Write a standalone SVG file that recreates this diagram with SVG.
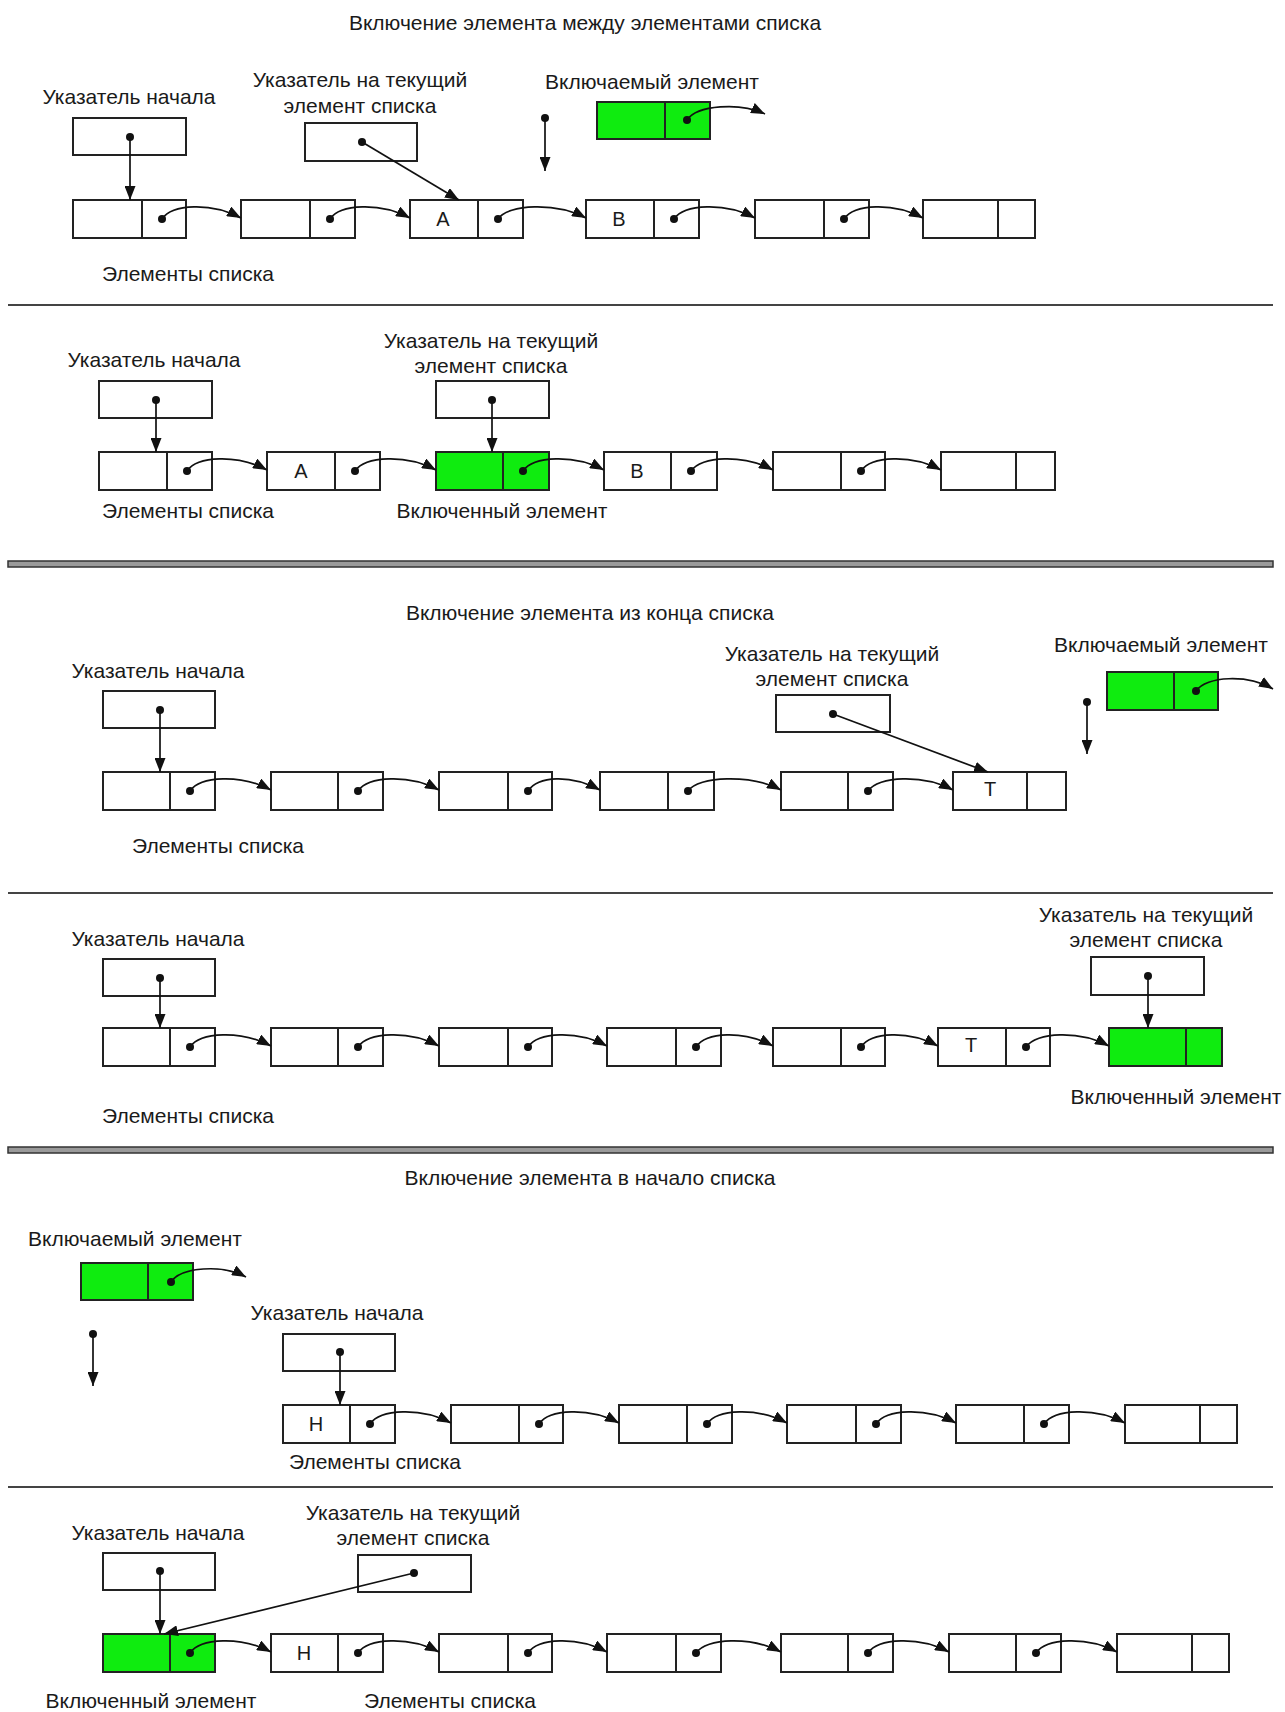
<svg xmlns="http://www.w3.org/2000/svg" width="1285" height="1712" viewBox="0 0 1285 1712">
  <defs>
    <marker id="tip" markerUnits="userSpaceOnUse" markerWidth="15" markerHeight="11" refX="14" refY="5.5" orient="auto">
      <path d="M0,0 L14,5.5 L0,11 z" fill="#111"/>
    </marker>
  </defs>
  <style>
    .cell { fill: #fff; stroke: #222; stroke-width: 2; }
    .green { fill: #0fec0f; }
    .div { stroke: #222; stroke-width: 2; }
    .dot { fill: #111; }
    .lbl { font-family: "Liberation Sans", Arial, sans-serif; font-size: 21px; fill: #1a1a1a; text-anchor: middle; }
    .ch { font-family: "Liberation Sans", Arial, sans-serif; font-size: 20px; fill: #1a1a1a; text-anchor: middle; }
    .link { fill: none; stroke: #111; stroke-width: 1.7; marker-end: url(#tip); }
    .ptr { fill: none; stroke: #111; stroke-width: 1.7; marker-end: url(#tip); }
    .thin { stroke: #444; stroke-width: 2; }
    .thick { fill: #9a9a9a; stroke: #333; stroke-width: 1.5; }
  </style>

  <!-- Section 1: insertion between list elements (before) -->
  <text class="lbl" x="585" y="30">Включение элемента между элементами списка</text>
  <g id="s1-labels">
    <text class="lbl" x="129" y="104">Указатель начала</text>
    <text class="lbl" x="360" y="87">Указатель на текущий</text>
    <text class="lbl" x="360" y="113">элемент списка</text>
    <text class="lbl" x="652" y="89">Включаемый элемент</text>
    <text class="lbl" x="188" y="281">Элементы списка</text>
  </g>
  <g id="s1-head"><rect class="cell" x="73" y="118" width="113" height="37"/><circle class="dot" cx="130" cy="137" r="4"/></g>
  <g id="s1-cur"><rect class="cell" x="305" y="123" width="112" height="38"/><circle class="dot" cx="362" cy="142" r="4"/></g>
  <g id="s1-new"><rect class="cell green" x="597" y="102" width="113" height="37"/><line class="div" x1="665" y1="102" x2="665" y2="139"/><circle class="dot" cx="687" cy="120" r="4"/></g>
  <g id="s1-n1"><rect class="cell" x="73" y="200" width="113" height="38"/><line class="div" x1="142" y1="200" x2="142" y2="238"/><circle class="dot" cx="162" cy="219" r="4"/></g>
  <g id="s1-n2"><rect class="cell" x="241" y="200" width="114" height="38"/><line class="div" x1="310" y1="200" x2="310" y2="238"/><circle class="dot" cx="330" cy="219" r="4"/></g>
  <g id="s1-n3"><rect class="cell" x="410" y="200" width="113" height="38"/><line class="div" x1="478" y1="200" x2="478" y2="238"/><circle class="dot" cx="498" cy="219" r="4"/><text class="ch" x="443" y="226">A</text></g>
  <g id="s1-n4"><rect class="cell" x="586" y="200" width="113" height="38"/><line class="div" x1="654" y1="200" x2="654" y2="238"/><circle class="dot" cx="674" cy="219" r="4"/><text class="ch" x="619" y="226">B</text></g>
  <g id="s1-n5"><rect class="cell" x="755" y="200" width="114" height="38"/><line class="div" x1="824" y1="200" x2="824" y2="238"/><circle class="dot" cx="844" cy="219" r="4"/></g>
  <g id="s1-n6"><rect class="cell" x="923" y="200" width="112" height="38"/><line class="div" x1="998" y1="200" x2="998" y2="238"/></g>
  <g id="s1-links">
    <line class="ptr" x1="130" y1="137" x2="130" y2="200"/>
    <line class="ptr" x1="362" y1="142" x2="459" y2="200"/>
    <circle class="dot" cx="545" cy="118" r="4"/>
    <line class="ptr" x1="545" y1="118" x2="545" y2="171"/>
    <path class="link" d="M687 120 C697 105 740 102 765 114"/>
    <path class="link" d="M162 219 C172 204 211 202 241 218"/>
    <path class="link" d="M330 219 C340 204 380 202 410 218"/>
    <path class="link" d="M498 219 C508 204 556 202 586 218"/>
    <path class="link" d="M674 219 C684 204 725 202 755 218"/>
    <path class="link" d="M844 219 C854 204 893 202 923 218"/>
  </g>
  <line class="thin" x1="8" y1="305" x2="1273" y2="305"/>

  <!-- Section 2: insertion between list elements (after) -->
  <g id="s2-labels">
    <text class="lbl" x="154" y="367">Указатель начала</text>
    <text class="lbl" x="491" y="348">Указатель на текущий</text>
    <text class="lbl" x="491" y="373">элемент списка</text>
    <text class="lbl" x="188" y="518">Элементы списка</text>
    <text class="lbl" x="502" y="518">Включенный элемент</text>
  </g>
  <g id="s2-head"><rect class="cell" x="99" y="381" width="113" height="37"/><circle class="dot" cx="156" cy="400" r="4"/></g>
  <g id="s2-cur"><rect class="cell" x="436" y="381" width="113" height="37"/><circle class="dot" cx="492" cy="400" r="4"/></g>
  <g id="s2-n1"><rect class="cell" x="99" y="452" width="113" height="38"/><line class="div" x1="167" y1="452" x2="167" y2="490"/><circle class="dot" cx="187" cy="471" r="4"/></g>
  <g id="s2-n2"><rect class="cell" x="267" y="452" width="113" height="38"/><line class="div" x1="335" y1="452" x2="335" y2="490"/><circle class="dot" cx="355" cy="471" r="4"/><text class="ch" x="301" y="478">A</text></g>
  <g id="s2-n3"><rect class="cell green" x="436" y="452" width="113" height="38"/><line class="div" x1="503" y1="452" x2="503" y2="490"/><circle class="dot" cx="523" cy="471" r="4"/></g>
  <g id="s2-n4"><rect class="cell" x="604" y="452" width="113" height="38"/><line class="div" x1="671" y1="452" x2="671" y2="490"/><circle class="dot" cx="691" cy="471" r="4"/><text class="ch" x="637" y="478">B</text></g>
  <g id="s2-n5"><rect class="cell" x="773" y="452" width="112" height="38"/><line class="div" x1="841" y1="452" x2="841" y2="490"/><circle class="dot" cx="861" cy="471" r="4"/></g>
  <g id="s2-n6"><rect class="cell" x="941" y="452" width="114" height="38"/><line class="div" x1="1016" y1="452" x2="1016" y2="490"/></g>
  <g id="s2-links">
    <line class="ptr" x1="156" y1="400" x2="156" y2="452"/>
    <line class="ptr" x1="492" y1="400" x2="492" y2="452"/>
    <path class="link" d="M187 471 C197 456 237 454 267 470"/>
    <path class="link" d="M355 471 C365 456 406 454 436 470"/>
    <path class="link" d="M523 471 C533 456 574 454 604 470"/>
    <path class="link" d="M691 471 C701 456 743 454 773 470"/>
    <path class="link" d="M861 471 C871 456 911 454 941 470"/>
  </g>
  <rect class="thick" x="8" y="561" width="1265" height="6"/>

  <!-- Section 3: insertion at the end of the list (before) -->
  <text class="lbl" x="590" y="620">Включение элемента из конца списка</text>
  <g id="s3-labels">
    <text class="lbl" x="158" y="678">Указатель начала</text>
    <text class="lbl" x="832" y="661">Указатель на текущий</text>
    <text class="lbl" x="832" y="686">элемент списка</text>
    <text class="lbl" x="1161" y="652">Включаемый элемент</text>
    <text class="lbl" x="218" y="853">Элементы списка</text>
  </g>
  <g id="s3-head"><rect class="cell" x="103" y="691" width="112" height="37"/><circle class="dot" cx="160" cy="710" r="4"/></g>
  <g id="s3-cur"><rect class="cell" x="776" y="695" width="114" height="37"/><circle class="dot" cx="833" cy="714" r="4"/></g>
  <g id="s3-new"><rect class="cell green" x="1107" y="672" width="111" height="38"/><line class="div" x1="1174" y1="672" x2="1174" y2="710"/><circle class="dot" cx="1196" cy="691" r="4"/></g>
  <g id="s3-n1"><rect class="cell" x="103" y="772" width="112" height="38"/><line class="div" x1="170" y1="772" x2="170" y2="810"/><circle class="dot" cx="190" cy="791" r="4"/></g>
  <g id="s3-n2"><rect class="cell" x="271" y="772" width="112" height="38"/><line class="div" x1="338" y1="772" x2="338" y2="810"/><circle class="dot" cx="358" cy="791" r="4"/></g>
  <g id="s3-n3"><rect class="cell" x="439" y="772" width="113" height="38"/><line class="div" x1="508" y1="772" x2="508" y2="810"/><circle class="dot" cx="528" cy="791" r="4"/></g>
  <g id="s3-n4"><rect class="cell" x="600" y="772" width="114" height="38"/><line class="div" x1="668" y1="772" x2="668" y2="810"/><circle class="dot" cx="688" cy="791" r="4"/></g>
  <g id="s3-n5"><rect class="cell" x="781" y="772" width="112" height="38"/><line class="div" x1="848" y1="772" x2="848" y2="810"/><circle class="dot" cx="868" cy="791" r="4"/></g>
  <g id="s3-n6"><rect class="cell" x="953" y="772" width="113" height="38"/><line class="div" x1="1027" y1="772" x2="1027" y2="810"/><text class="ch" x="990" y="796">T</text></g>
  <g id="s3-links">
    <line class="ptr" x1="160" y1="710" x2="160" y2="772"/>
    <line class="ptr" x1="833" y1="714" x2="988" y2="772"/>
    <circle class="dot" cx="1087" cy="702" r="4"/>
    <line class="ptr" x1="1087" y1="702" x2="1087" y2="754"/>
    <path class="link" d="M1196 691 C1206 676 1248 674 1273 689"/>
    <path class="link" d="M190 791 C200 776 241 774 271 790"/>
    <path class="link" d="M358 791 C368 776 409 774 439 790"/>
    <path class="link" d="M528 791 C538 776 570 774 600 790"/>
    <path class="link" d="M688 791 C698 776 751 774 781 790"/>
    <path class="link" d="M868 791 C878 776 923 774 953 790"/>
  </g>
  <line class="thin" x1="8" y1="893" x2="1273" y2="893"/>

  <!-- Section 4: insertion at the end of the list (after) -->
  <g id="s4-labels">
    <text class="lbl" x="158" y="946">Указатель начала</text>
    <text class="lbl" x="1146" y="922">Указатель на текущий</text>
    <text class="lbl" x="1146" y="947">элемент списка</text>
    <text class="lbl" x="1176" y="1104">Включенный элемент</text>
    <text class="lbl" x="188" y="1123">Элементы списка</text>
  </g>
  <g id="s4-head"><rect class="cell" x="103" y="959" width="112" height="37"/><circle class="dot" cx="160" cy="978" r="4"/></g>
  <g id="s4-cur"><rect class="cell" x="1091" y="957" width="113" height="38"/><circle class="dot" cx="1148" cy="976" r="4"/></g>
  <g id="s4-n1"><rect class="cell" x="103" y="1028" width="112" height="38"/><line class="div" x1="170" y1="1028" x2="170" y2="1066"/><circle class="dot" cx="190" cy="1047" r="4"/></g>
  <g id="s4-n2"><rect class="cell" x="271" y="1028" width="112" height="38"/><line class="div" x1="338" y1="1028" x2="338" y2="1066"/><circle class="dot" cx="358" cy="1047" r="4"/></g>
  <g id="s4-n3"><rect class="cell" x="439" y="1028" width="113" height="38"/><line class="div" x1="508" y1="1028" x2="508" y2="1066"/><circle class="dot" cx="528" cy="1047" r="4"/></g>
  <g id="s4-n4"><rect class="cell" x="607" y="1028" width="114" height="38"/><line class="div" x1="676" y1="1028" x2="676" y2="1066"/><circle class="dot" cx="696" cy="1047" r="4"/></g>
  <g id="s4-n5"><rect class="cell" x="773" y="1028" width="112" height="38"/><line class="div" x1="841" y1="1028" x2="841" y2="1066"/><circle class="dot" cx="861" cy="1047" r="4"/></g>
  <g id="s4-n6"><rect class="cell" x="938" y="1028" width="112" height="38"/><line class="div" x1="1006" y1="1028" x2="1006" y2="1066"/><circle class="dot" cx="1026" cy="1047" r="4"/><text class="ch" x="971" y="1052">T</text></g>
  <g id="s4-n7"><rect class="cell green" x="1109" y="1028" width="113" height="38"/><line class="div" x1="1186" y1="1028" x2="1186" y2="1066"/></g>
  <g id="s4-links">
    <line class="ptr" x1="160" y1="978" x2="160" y2="1028"/>
    <line class="ptr" x1="1148" y1="976" x2="1148" y2="1028"/>
    <path class="link" d="M190 1047 C200 1032 241 1030 271 1046"/>
    <path class="link" d="M358 1047 C368 1032 409 1030 439 1046"/>
    <path class="link" d="M528 1047 C538 1032 577 1030 607 1046"/>
    <path class="link" d="M696 1047 C706 1032 743 1030 773 1046"/>
    <path class="link" d="M861 1047 C871 1032 908 1030 938 1046"/>
    <path class="link" d="M1026 1047 C1036 1032 1079 1030 1109 1046"/>
  </g>
  <rect class="thick" x="8" y="1147" width="1265" height="6"/>

  <!-- Section 5: insertion at the head of the list (before) -->
  <text class="lbl" x="590" y="1185">Включение элемента в начало списка</text>
  <g id="s5-labels">
    <text class="lbl" x="135" y="1246">Включаемый элемент</text>
    <text class="lbl" x="337" y="1320">Указатель начала</text>
    <text class="lbl" x="375" y="1469">Элементы списка</text>
  </g>
  <g id="s5-new"><rect class="cell green" x="81" y="1263" width="112" height="37"/><line class="div" x1="148" y1="1263" x2="148" y2="1300"/><circle class="dot" cx="171" cy="1282" r="4"/></g>
  <g id="s5-head"><rect class="cell" x="283" y="1334" width="112" height="37"/><circle class="dot" cx="340" cy="1352" r="4"/></g>
  <g id="s5-n1"><rect class="cell" x="283" y="1405" width="112" height="38"/><line class="div" x1="350" y1="1405" x2="350" y2="1443"/><circle class="dot" cx="370" cy="1424" r="4"/><text class="ch" x="316" y="1431">H</text></g>
  <g id="s5-n2"><rect class="cell" x="451" y="1405" width="112" height="38"/><line class="div" x1="519" y1="1405" x2="519" y2="1443"/><circle class="dot" cx="539" cy="1424" r="4"/></g>
  <g id="s5-n3"><rect class="cell" x="619" y="1405" width="113" height="38"/><line class="div" x1="687" y1="1405" x2="687" y2="1443"/><circle class="dot" cx="707" cy="1424" r="4"/></g>
  <g id="s5-n4"><rect class="cell" x="787" y="1405" width="114" height="38"/><line class="div" x1="856" y1="1405" x2="856" y2="1443"/><circle class="dot" cx="876" cy="1424" r="4"/></g>
  <g id="s5-n5"><rect class="cell" x="956" y="1405" width="113" height="38"/><line class="div" x1="1024" y1="1405" x2="1024" y2="1443"/><circle class="dot" cx="1044" cy="1424" r="4"/></g>
  <g id="s5-n6"><rect class="cell" x="1125" y="1405" width="112" height="38"/><line class="div" x1="1200" y1="1405" x2="1200" y2="1443"/></g>
  <g id="s5-links">
    <path class="link" d="M171 1282 C181 1267 222 1264 246 1277"/>
    <circle class="dot" cx="93" cy="1334" r="4"/>
    <line class="ptr" x1="93" y1="1334" x2="93" y2="1386"/>
    <line class="ptr" x1="340" y1="1352" x2="340" y2="1405"/>
    <path class="link" d="M370 1424 C380 1409 421 1407 451 1423"/>
    <path class="link" d="M539 1424 C549 1409 589 1407 619 1423"/>
    <path class="link" d="M707 1424 C717 1409 757 1407 787 1423"/>
    <path class="link" d="M876 1424 C886 1409 926 1407 956 1423"/>
    <path class="link" d="M1044 1424 C1054 1409 1095 1407 1125 1423"/>
  </g>
  <line class="thin" x1="8" y1="1487" x2="1273" y2="1487"/>

  <!-- Section 6: insertion at the head of the list (after) -->
  <g id="s6-labels">
    <text class="lbl" x="158" y="1540">Указатель начала</text>
    <text class="lbl" x="413" y="1520">Указатель на текущий</text>
    <text class="lbl" x="413" y="1545">элемент списка</text>
    <text class="lbl" x="151" y="1708">Включенный элемент</text>
    <text class="lbl" x="450" y="1708">Элементы списка</text>
  </g>
  <g id="s6-head"><rect class="cell" x="103" y="1553" width="112" height="37"/><circle class="dot" cx="160" cy="1571" r="4"/></g>
  <g id="s6-cur"><rect class="cell" x="358" y="1555" width="113" height="37"/><circle class="dot" cx="414" cy="1573" r="4"/></g>
  <g id="s6-n1"><rect class="cell green" x="103" y="1634" width="112" height="38"/><line class="div" x1="170" y1="1634" x2="170" y2="1672"/><circle class="dot" cx="190" cy="1653" r="4"/></g>
  <g id="s6-n2"><rect class="cell" x="271" y="1634" width="112" height="38"/><line class="div" x1="338" y1="1634" x2="338" y2="1672"/><circle class="dot" cx="358" cy="1653" r="4"/><text class="ch" x="304" y="1660">H</text></g>
  <g id="s6-n3"><rect class="cell" x="439" y="1634" width="113" height="38"/><line class="div" x1="508" y1="1634" x2="508" y2="1672"/><circle class="dot" cx="528" cy="1653" r="4"/></g>
  <g id="s6-n4"><rect class="cell" x="607" y="1634" width="114" height="38"/><line class="div" x1="676" y1="1634" x2="676" y2="1672"/><circle class="dot" cx="696" cy="1653" r="4"/></g>
  <g id="s6-n5"><rect class="cell" x="781" y="1634" width="112" height="38"/><line class="div" x1="848" y1="1634" x2="848" y2="1672"/><circle class="dot" cx="868" cy="1653" r="4"/></g>
  <g id="s6-n6"><rect class="cell" x="949" y="1634" width="112" height="38"/><line class="div" x1="1016" y1="1634" x2="1016" y2="1672"/><circle class="dot" cx="1036" cy="1653" r="4"/></g>
  <g id="s6-n7"><rect class="cell" x="1117" y="1634" width="112" height="38"/><line class="div" x1="1192" y1="1634" x2="1192" y2="1672"/></g>
  <g id="s6-links">
    <line class="ptr" x1="160" y1="1571" x2="160" y2="1634"/>
    <line class="ptr" x1="414" y1="1573" x2="164" y2="1634"/>
    <path class="link" d="M190 1653 C200 1638 241 1636 271 1652"/>
    <path class="link" d="M358 1653 C368 1638 409 1636 439 1652"/>
    <path class="link" d="M528 1653 C538 1638 577 1636 607 1652"/>
    <path class="link" d="M696 1653 C706 1638 751 1636 781 1652"/>
    <path class="link" d="M868 1653 C878 1638 919 1636 949 1652"/>
    <path class="link" d="M1036 1653 C1046 1638 1087 1636 1117 1652"/>
  </g>
</svg>
